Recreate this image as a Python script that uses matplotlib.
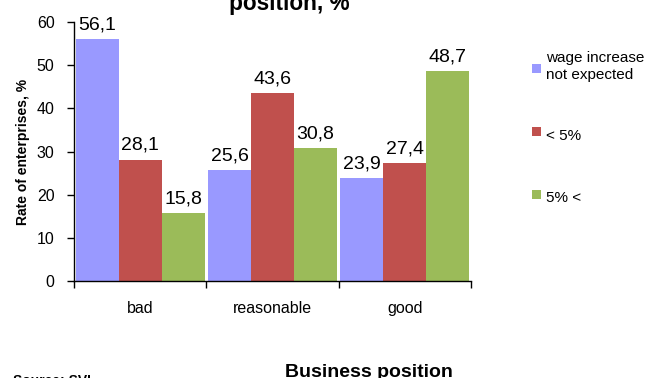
import matplotlib.pyplot as plt
import numpy as np
from matplotlib.patches import Rectangle

plt.rcParams['font.family'] = ['Liberation Sans', 'DejaVu Sans']

# Share of enterprises expecting a wage increase, by business position
categories = ['bad', 'reasonable', 'good']
series_names = ['wage increase\nnot expected', '< 5%', '5% <']
no_increase = [56.1, 25.6, 23.9]
under_5 = [28.1, 43.6, 27.4]
over_5 = [15.8, 30.8, 48.7]
colors = ['#9999FF', '#C0504D', '#9BBB59']

fig = plt.figure(figsize=(6.5, 3.78), dpi=100)
ax = fig.add_axes([0.1138, 0.2566, 0.6108, 0.6852])

x = np.arange(len(categories))
width = 0.325
series = [no_increase, under_5, over_5]
for i, (vals, col) in enumerate(zip(series, colors)):
    pos = x + (i - 1) * width
    ax.bar(pos, vals, width=width, color=col, edgecolor='none')
    for px, v in zip(pos, vals):
        ax.annotate(f'{v:.1f}'.replace('.', ','), (px, v), xytext=(0, 7),
                    textcoords='offset points', ha='center', va='baseline',
                    fontsize=14)

ax.set_xlim(-0.5, 2.5)
ax.set_ylim(0, 60)
ax.set_yticks(range(0, 61, 10))
ax.tick_params(axis='y', labelsize=11.5, length=5, width=1, pad=9, direction='out')

# category labels sit between boundary ticks
ax.set_xticks(x)
ax.set_xticklabels(categories, fontsize=11.5)
ax.set_xticks(np.arange(-0.5, 3.0, 1.0), minor=True)
ax.tick_params(axis='x', which='major', length=0, pad=14.7)
ax.tick_params(axis='x', which='minor', length=5, width=1, direction='out')

for s in ['top', 'right']:
    ax.spines[s].set_visible(False)
for s in ['left', 'bottom']:
    ax.spines[s].set_linewidth(1)

ax.set_ylabel('Rate of enterprises, %', fontsize=10, fontweight='bold', labelpad=5)

fig.text(0.4454, 0.9735, 'position, %', ha='center', va='baseline',
         fontsize=16.3, fontweight='bold')
fig.text(0.567, 0.003, 'Business position', ha='center', va='baseline',
         fontsize=14, fontweight='bold')
fig.text(0.02, -0.0185, 'Source: SVL', ha='left', va='baseline',
         fontsize=10, fontweight='bold')

# legend: square marker aligned with the first line of each label
square_bottoms = [0.8069, 0.6402, 0.4735]
text_baselines = [0.791, 0.6296, 0.4656]
for name, col, sb, tb in zip(series_names, colors, square_bottoms, text_baselines):
    fig.add_artist(Rectangle((0.8185, sb), 0.0139, 0.0238, facecolor=col,
                             edgecolor='none', transform=fig.transFigure))
    fig.text(0.84, tb, name, ha='left', va='baseline', fontsize=11,
             linespacing=1.3)

fig.savefig('out.png', dpi=100)
